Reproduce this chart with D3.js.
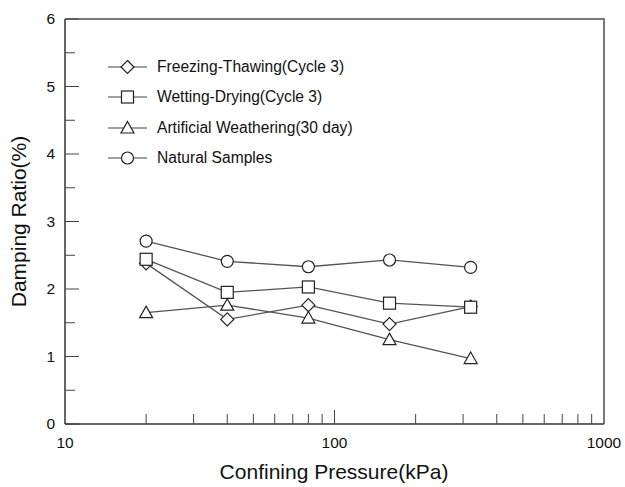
<!DOCTYPE html>
<html>
<head>
<meta charset="utf-8">
<script src="https://cdn.jsdelivr.net/npm/d3@7"></script>
<style>
  html, body { margin: 0; padding: 0; background: #fff; }
  svg { display: block; font-family: "Liberation Sans", Arial, sans-serif; }
</style>
</head>
<body>
<svg id="chart" width="625" height="487"></svg>
<script>
// Confining pressure levels (kPa)
const pressures = [20, 40, 80, 160, 320];

// Damping ratio (%) for each treatment
const freezeThaw = [2.38, 1.55, 1.76, 1.48, 1.74];
const wetDry     = [2.44, 1.95, 2.03, 1.79, 1.73];
const artificial = [1.65, 1.76, 1.57, 1.25, 0.97];
const natural    = [2.71, 2.41, 2.33, 2.43, 2.32];

const seriesNames = [
  "Freezing-Thawing(Cycle 3)",
  "Wetting-Drying(Cycle 3)",
  "Artificial Weathering(30 day)",
  "Natural Samples"
];
const seriesMarkers = ["diamond", "square", "triangle", "circle"];
const seriesValues = [freezeThaw, wetDry, artificial, natural];

const xTickLabels = [10, 100, 1000];
const yTickLabels = [0, 1, 2, 3, 4, 5, 6];

const svg = d3.select("#chart");
const plotLeft = 65, plotRight = 604, plotTop = 19, plotBottom = 424;

const x = d3.scaleLog().domain([10, 1000]).range([plotLeft, plotRight]);
const y = d3.scaleLinear().domain([0, 6]).range([plotBottom, plotTop]);

// Frame (top and right in lighter grey)
svg.append("path")
  .attr("d", `M${plotLeft},${plotTop}H${plotRight}V${plotBottom}`)
  .attr("fill", "none").attr("stroke", "#7a7a7a").attr("stroke-width", 2);

// Y axis with inward ticks
const yAxis = g => {
  g.append("line").attr("x1", plotLeft).attr("x2", plotLeft).attr("y1", plotTop).attr("y2", plotBottom)
    .attr("stroke", "#333").attr("stroke-width", 1.5);
  d3.range(0, 6.01, 0.5).forEach(v => {
    const major = Math.abs(v - Math.round(v)) < 1e-6;
    g.append("line").attr("x1", plotLeft).attr("x2", plotLeft + (major ? 14 : 10))
      .attr("y1", y(v)).attr("y2", y(v)).attr("stroke", "#444").attr("stroke-width", 1);
  });
  yTickLabels.forEach(v => {
    g.append("text").attr("x", plotLeft - 10).attr("y", y(v)).attr("dy", "0.35em")
      .attr("text-anchor", "end").attr("font-size", 15.5).attr("fill", "#111").text(v);
  });
};
svg.append("g").call(yAxis);

// X axis (log) with inward ticks
const xAxis = g => {
  g.append("line").attr("x1", plotLeft).attr("x2", plotRight).attr("y1", plotBottom).attr("y2", plotBottom)
    .attr("stroke", "#333").attr("stroke-width", 1.5);
  const ticks = [];
  [10, 100].forEach(d => { for (let k = 2; k <= 9; k++) ticks.push(d * k); });
  ticks.push(100);
  ticks.forEach(v => {
    const major = v === 100;
    g.append("line").attr("x1", x(v)).attr("x2", x(v))
      .attr("y1", plotBottom).attr("y2", plotBottom - (major ? 14 : 10))
      .attr("stroke", "#444").attr("stroke-width", 1);
  });
  xTickLabels.forEach(v => {
    g.append("text").attr("x", x(v)).attr("y", plotBottom + 19).attr("dy", "0.35em")
      .attr("text-anchor", "middle").attr("font-size", 15.5).attr("fill", "#111").text(v);
  });
};
svg.append("g").call(xAxis);

// Axis titles
svg.append("text").attr("x", 334).attr("y", 479)
  .attr("text-anchor", "middle").attr("font-size", 21).attr("fill", "#111")
  .text("Confining Pressure(kPa)");
svg.append("text")
  .attr("transform", `translate(26,${(plotTop + plotBottom) / 2}) rotate(-90)`)
  .attr("text-anchor", "middle").attr("font-size", 21).attr("fill", "#111")
  .text("Damping Ratio(%)");

// Marker shapes
function drawMarker(g, type, cx, cy) {
  const s = "#222", w = 1.2;
  if (type === "circle") {
    g.append("circle").attr("cx", cx).attr("cy", cy).attr("r", 6)
      .attr("fill", "#fff").attr("stroke", s).attr("stroke-width", w);
  } else if (type === "square") {
    g.append("rect").attr("x", cx - 6).attr("y", cy - 6).attr("width", 12).attr("height", 12)
      .attr("fill", "#fff").attr("stroke", s).attr("stroke-width", w);
  } else if (type === "diamond") {
    g.append("path").attr("d", `M${cx},${cy - 6.5}L${cx + 6.5},${cy}L${cx},${cy + 6.5}L${cx - 6.5},${cy}Z`)
      .attr("fill", "#fff").attr("stroke", s).attr("stroke-width", w);
  } else if (type === "triangle") {
    g.append("path").attr("d", `M${cx},${cy - 6.5}L${cx + 6.5},${cy + 5}L${cx - 6.5},${cy + 5}Z`)
      .attr("fill", "#fff").attr("stroke", s).attr("stroke-width", w);
  }
}

// Series lines then markers
const line = d3.line().x(d => x(d[0])).y(d => y(d[1]));
const plot = svg.append("g");
seriesValues.forEach(vals => {
  plot.append("path").datum(pressures.map((p, i) => [p, vals[i]]))
    .attr("d", line).attr("fill", "none").attr("stroke", "#555").attr("stroke-width", 1.3);
});
seriesValues.forEach((vals, si) => {
  pressures.forEach((p, i) => drawMarker(plot, seriesMarkers[si], x(p), y(vals[i])));
});

// Legend
const legend = svg.append("g");
const legendRows = [67, 97, 128, 158];
seriesNames.forEach((name, i) => {
  const ly = legendRows[i];
  legend.append("line").attr("x1", 108).attr("x2", 147).attr("y1", ly).attr("y2", ly)
    .attr("stroke", "#444").attr("stroke-width", 1.2);
  drawMarker(legend, seriesMarkers[i], 127.5, ly);
  legend.append("text").attr("x", 157).attr("y", ly).attr("dy", "0.35em")
    .attr("font-size", 15.6).attr("fill", "#111").text(name);
});
</script>
</body>
</html>
